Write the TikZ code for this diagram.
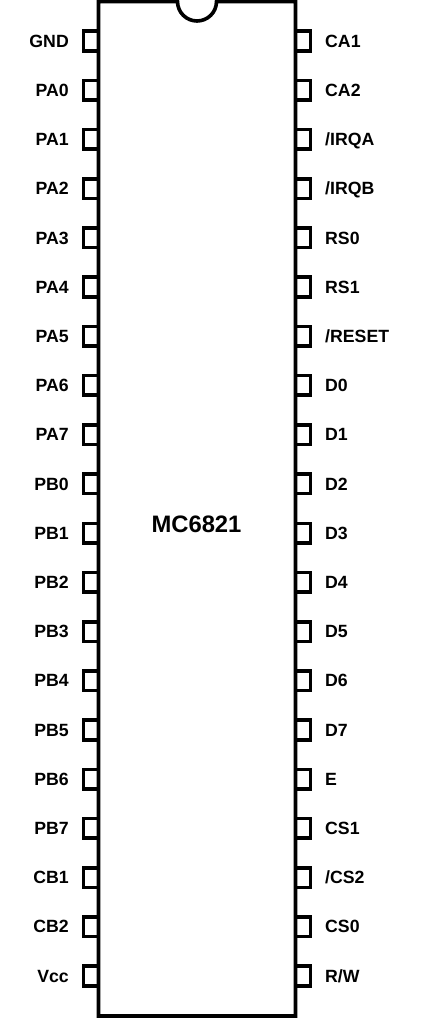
\documentclass[tikz,border=0pt]{standalone}
\usepackage{fontspec}
\setmainfont{Liberation Sans}
\tikzset{
  pinbox/.style={draw=black,line width=3.6pt,fill=white,rectangle,minimum width=15pt,minimum height=19.6pt,inner sep=0pt,outer sep=0pt},
  pinlabel/.style={font=\fontsize{17.7}{20}\selectfont\bfseries,inner sep=0pt,text=black},
  chipline/.style={draw=black,line width=3.6pt,line join=miter},
}
\begin{document}
\begin{tikzpicture}[x=1pt,y=-1pt]
\useasboundingbox (0,0) rectangle (443,1024);
\foreach \t [count=\i from 0] in {GND,PA0,PA1,PA2,PA3,PA4,PA5,PA6,PA7,PB0,PB1,PB2,PB3,PB4,PB5,PB6,PB7,CB1,CB2,Vcc}{
  \pgfmathsetmacro{\py}{41+49.21*\i}
  \node[pinbox] (L\i) at (91,\py) {};
  \node[pinlabel,anchor=base east] (LT\i) at (69,\py+6.2) {\t};
}
\foreach \t [count=\i from 0] in {CA1,CA2,/IRQA,/IRQB,RS0,RS1,/RESET,D0,D1,D2,D3,D4,D5,D6,D7,E,CS1,/CS2,CS0,R/W}{
  \pgfmathsetmacro{\py}{41+49.21*\i}
  \node[pinbox] (R\i) at (303,\py) {};
  \node[pinlabel,anchor=base west] (RT\i) at (325,\py+6.2) {\t};
}
\draw[chipline,fill=white] (98.5,1.5) -- (177.5,1.5) arc[start angle=180,delta angle=-180,radius=19.5] -- (295.5,1.5) -- (295.5,1016) -- (98.5,1016) -- cycle;
\node[font=\fontsize{23.8}{26}\selectfont\bfseries,inner sep=0pt] (chip) at (196.5,524) {MC6821};
\end{tikzpicture}
\end{document}
